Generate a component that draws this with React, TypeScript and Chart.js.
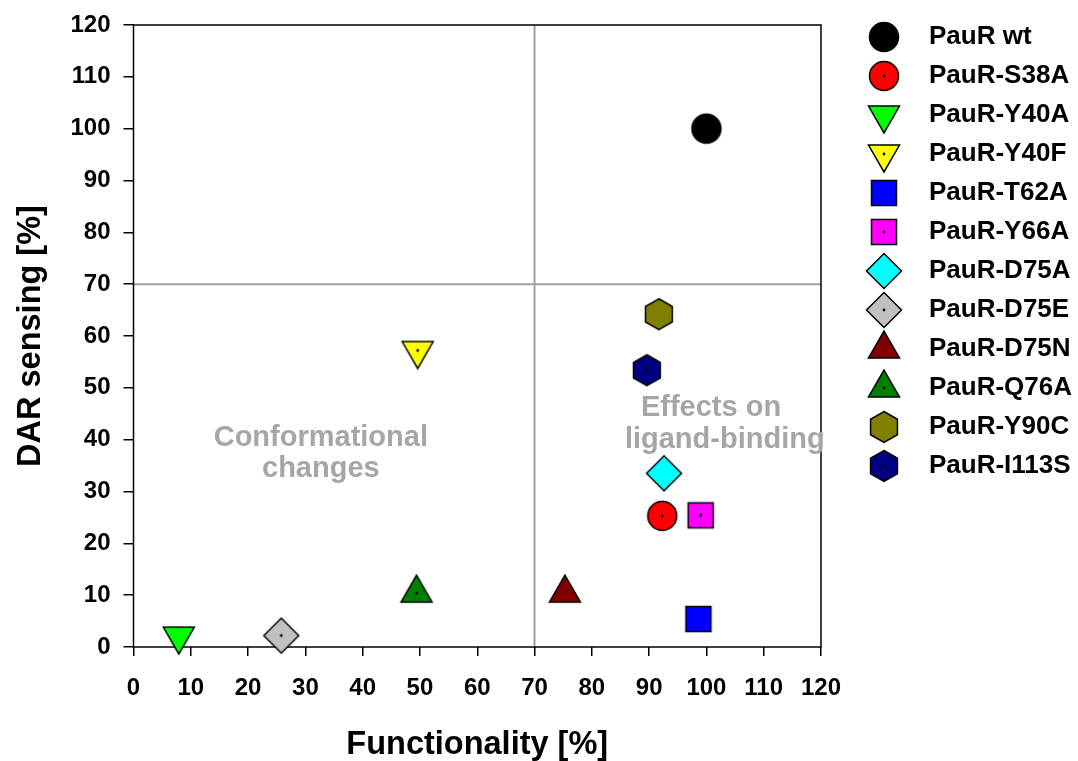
import React, { useEffect, useRef } from "react";
import { Chart, registerables } from "chart.js";

Chart.register(...registerables);

// ---- data ----
const VARIANTS = [
  "PauR wt",
  "PauR-S38A",
  "PauR-Y40A",
  "PauR-Y40F",
  "PauR-T62A",
  "PauR-Y66A",
  "PauR-D75A",
  "PauR-D75E",
  "PauR-D75N",
  "PauR-Q76A",
  "PauR-Y90C",
  "PauR-I113S",
];
const FUNCTIONALITY = [100, 92.3, 7.9, 49.6, 98.6, 99.0, 92.6, 25.8, 75.3, 49.4, 91.7, 89.6];
const DAR_SENSING = [100, 25.3, 2.1, 57.2, 5.4, 25.4, 33.5, 2.2, 10.4, 10.4, 64.2, 53.4];
const FILL_COLORS = [
  "#000000",
  "#ff0000",
  "#00ff00",
  "#ffff00",
  "#0000ff",
  "#ff00ff",
  "#00ffff",
  "#c0c0c0",
  "#800000",
  "#008000",
  "#808000",
  "#000080",
];
const SHAPES = [
  "circle",
  "circle",
  "triDown",
  "triDown",
  "square",
  "square",
  "diamond",
  "diamond",
  "triUp",
  "triUp",
  "hexagon",
  "hexagon",
];
const CENTER_DOT = [false, true, false, true, false, true, false, true, false, true, false, true];

const AXIS_TICKS = [0, 10, 20, 30, 40, 50, 60, 70, 80, 90, 100, 110, 120];
const X_TITLE = "Functionality [%]";
const Y_TITLE = "DAR sensing [%]";
const THRESHOLD_X = 70;
const THRESHOLD_Y = 70;

const NOTE_TEXTS = ["Conformational", "changes", "Effects on", "ligand-binding"];
const NOTE_X = [32.7, 32.7, 100.8, 103.2];
const NOTE_Y = [40.3, 34.3, 46.1, 39.9];

const FONT = "'Liberation Sans', Arial, Helvetica, sans-serif";

function makeMarker(shape: string, fill: string, dot: boolean): HTMLCanvasElement {
  const S = 40;
  const c = document.createElement("canvas");
  c.width = S;
  c.height = S;
  const ctx = c.getContext("2d")!;
  const cx = S / 2;
  const cy = S / 2;
  ctx.beginPath();
  if (shape === "circle") {
    ctx.arc(cx, cy, 14.5, 0, Math.PI * 2);
  } else if (shape === "triDown" || shape === "triUp") {
    const s = 31;
    const h = (s * Math.sqrt(3)) / 2;
    if (shape === "triDown") {
      ctx.moveTo(cx - s / 2, cy - h / 3);
      ctx.lineTo(cx + s / 2, cy - h / 3);
      ctx.lineTo(cx, cy + (2 * h) / 3);
    } else {
      ctx.moveTo(cx, cy - (2 * h) / 3);
      ctx.lineTo(cx + s / 2, cy + h / 3);
      ctx.lineTo(cx - s / 2, cy + h / 3);
    }
    ctx.closePath();
  } else if (shape === "square") {
    ctx.rect(cx - 12.5, cy - 12.5, 25, 25);
  } else if (shape === "diamond") {
    const d = 17.5;
    ctx.moveTo(cx, cy - d);
    ctx.lineTo(cx + d, cy);
    ctx.lineTo(cx, cy + d);
    ctx.lineTo(cx - d, cy);
    ctx.closePath();
  } else if (shape === "hexagon") {
    const r = 15.5;
    for (let k = 0; k < 6; k++) {
      const a = -Math.PI / 2 + (k * Math.PI) / 3;
      const px = cx + r * Math.cos(a);
      const py = cy + r * Math.sin(a);
      if (k === 0) ctx.moveTo(px, py);
      else ctx.lineTo(px, py);
    }
    ctx.closePath();
  }
  ctx.fillStyle = fill;
  ctx.fill();
  ctx.lineWidth = 1.5;
  ctx.strokeStyle = "#000000";
  ctx.lineJoin = "miter";
  ctx.stroke();
  if (dot) {
    ctx.beginPath();
    ctx.arc(cx, cy, 1.4, 0, Math.PI * 2);
    ctx.fillStyle = "#000000";
    ctx.fill();
  }
  return c;
}

const framePlugin = {
  id: "frameAndNotes",
  beforeDatasetsDraw(chart: any) {
    const { ctx, chartArea, scales } = chart;
    const xs = scales.x;
    const ys = scales.y;
    ctx.save();
    // threshold lines
    ctx.strokeStyle = "#a0a0a0";
    ctx.lineWidth = 2;
    const px = xs.getPixelForValue(THRESHOLD_X);
    const py = ys.getPixelForValue(THRESHOLD_Y);
    ctx.beginPath();
    ctx.moveTo(px, chartArea.top);
    ctx.lineTo(px, chartArea.bottom);
    ctx.moveTo(chartArea.left, py);
    ctx.lineTo(chartArea.right, py);
    ctx.stroke();
    // frame
    ctx.strokeStyle = "#000000";
    ctx.lineWidth = 1.5;
    ctx.strokeRect(chartArea.left, chartArea.top, chartArea.right - chartArea.left, chartArea.bottom - chartArea.top);
    // notes
    ctx.fillStyle = "#a6a6a6";
    ctx.font = `bold 29px ${FONT}`;
    ctx.textAlign = "center";
    ctx.textBaseline = "middle";
    for (let i = 0; i < NOTE_TEXTS.length; i++) {
      ctx.fillText(NOTE_TEXTS[i], xs.getPixelForValue(NOTE_X[i]), ys.getPixelForValue(NOTE_Y[i]));
    }
    ctx.restore();
  },
};

export default function App() {
  const ref = useRef<HTMLCanvasElement | null>(null);

  useEffect(() => {
    if (!ref.current) return;
    const datasets = VARIANTS.map((name, i) => ({
      label: name,
      data: [{ x: FUNCTIONALITY[i], y: DAR_SENSING[i] }],
      pointStyle: makeMarker(SHAPES[i], FILL_COLORS[i], CENTER_DOT[i]),
      pointRadius: 15,
      pointHoverRadius: 15,
      backgroundColor: FILL_COLORS[i],
      borderColor: "#000000",
      clip: false as any,
    }));

    const tickFont = { family: FONT, size: 24, weight: "bold" as const, lineHeight: 1.0 };
    const titleFont = { family: FONT, size: 32.5, weight: "bold" as const, lineHeight: 1.0 };

    const chart = new Chart(ref.current, {
      type: "scatter",
      data: { datasets },
      plugins: [framePlugin],
      options: {
        animation: false,
        responsive: true,
        maintainAspectRatio: false,
        layout: { padding: { top: 11, right: 0, bottom: 0, left: 0 } },
        plugins: {
          tooltip: { enabled: false },
          legend: {
            display: true,
            position: "right",
            align: "start",
            maxWidth: 239,
            labels: {
              usePointStyle: true,
              pointStyleWidth: 64,
              padding: 13,
              color: "#000000",
              font: { family: FONT, size: 26, weight: "bold" },
            },
          },
        },
        scales: {
          x: {
            type: "linear",
            position: "bottom",
            min: 0,
            max: 120,
            afterBuildTicks: (s: any) => {
              s.ticks = AXIS_TICKS.map((v) => ({ value: v }));
            },
            afterFit: (s: any) => {
              s.height = 114;
            },
            grid: {
              display: true,
              drawOnChartArea: false,
              drawTicks: true,
              tickLength: 9,
              color: "#000000",
              lineWidth: 1.5,
            },
            border: { display: false },
            ticks: { color: "#000000", font: tickFont, padding: 20, maxRotation: 0, autoSkip: false },
            title: {
              display: true,
              text: X_TITLE,
              color: "#000000",
              font: titleFont,
              padding: { top: 0, bottom: 0 },
            },
          },
          y: {
            type: "linear",
            position: "left",
            min: 0,
            max: 120,
            afterBuildTicks: (s: any) => {
              s.ticks = AXIS_TICKS.map((v) => ({ value: v }));
            },
            afterFit: (s: any) => {
              s.width = 133.5;
            },
            grid: {
              display: true,
              drawOnChartArea: false,
              drawTicks: true,
              tickLength: 10,
              color: "#000000",
              lineWidth: 1.5,
            },
            border: { display: false },
            ticks: { color: "#000000", font: tickFont, padding: 13, autoSkip: false },
            title: {
              display: true,
              text: Y_TITLE,
              color: "#000000",
              font: titleFont,
              padding: { top: 15, bottom: 0 },
            },
          },
          x2: {
            type: "linear",
            position: "top",
            min: 0,
            max: 120,
            display: true,
            afterFit: (s: any) => {
              s.height = 14;
            },
            grid: { display: false },
            border: { display: false },
            ticks: { display: false },
          },
          y2: {
            type: "linear",
            position: "right",
            min: 0,
            max: 120,
            display: true,
            afterFit: (s: any) => {
              s.width = 18;
            },
            grid: { display: false },
            border: { display: false },
            ticks: { display: false },
          },
        },
      },
    });
    return () => chart.destroy();
  }, []);

  return (
    <div style={{ position: "absolute", left: 0, top: 0, width: 1078, height: 761, background: "#ffffff" }}>
      <canvas ref={ref} />
    </div>
  );
}
